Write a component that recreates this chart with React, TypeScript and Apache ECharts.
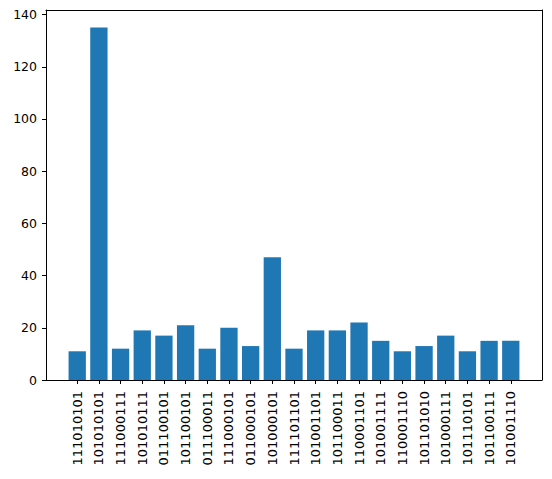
import React, { useEffect, useRef } from "react";
import * as echarts from "echarts";

const categories = [
  "111010101", "101010101", "111000111", "101010111", "011100101", "101100101",
  "011100011", "111000101", "011000101", "101000101", "111101101", "101001101",
  "101100011", "110001101", "101001111", "110001110", "101101010", "101000111",
  "101110101", "101100111", "101001110",
];
const values = [11, 135, 12, 19, 17, 21, 12, 20, 13, 47, 12, 19, 19, 22, 15, 11, 13, 17, 11, 15, 15];
const yTicks = [0, 20, 40, 60, 80, 100, 120, 140];

export default function App() {
  const ref = useRef<HTMLDivElement>(null);
  useEffect(() => {
    if (!ref.current) return;
    const chart = echarts.init(ref.current, null, { renderer: "svg" });
    const n = categories.length;
    const pad = (n - 1 + 0.8) * 0.05 + 0.4;
    const xIdx = categories.map((_, i) => i);
    const font = "DejaVu Sans";
    const xMin = -pad;
    const xMax = n - 1 + pad;
    const yMax = 141.75;
    const frameAxis = {
      type: "value",
      splitLine: { show: false },
      axisLabel: { show: false },
      axisTick: { show: false },
      axisLine: { show: true, onZero: false, lineStyle: { color: "#000", width: 1 } },
    };
    chart.setOption({
      animation: false,
      grid: { left: 46, right: 10, top: 10, bottom: 99 },
      xAxis: [
        {
          type: "value",
          min: xMin,
          max: xMax,
          position: "bottom",
          splitLine: { show: false },
          axisLine: { show: true, onZero: false, lineStyle: { color: "#000", width: 1 } },
          axisTick: { show: true, length: 4, lineStyle: { color: "#000" }, customValues: xIdx },
          axisLabel: {
            rotate: 90,
            margin: 11,
            color: "#000",
            fontSize: 13,
            fontFamily: font,
            customValues: xIdx,
            formatter: (v: number) => categories[Math.round(v)] ?? "",
          },
        },
        { ...frameAxis, min: xMin, max: xMax, position: "top" },
      ],
      yAxis: [
        {
          type: "value",
          min: 0,
          max: yMax,
          position: "left",
          splitLine: { show: false },
          axisLine: { show: true, onZero: false, lineStyle: { color: "#000", width: 1 } },
          axisTick: { show: true, length: 4, lineStyle: { color: "#000" }, customValues: yTicks },
          axisLabel: {
            margin: 9,
            color: "#000",
            fontSize: 12.5,
            fontFamily: font,
            customValues: yTicks,
          },
        },
        { ...frameAxis, min: 0, max: yMax, position: "right" },
      ],
      series: [
        {
          type: "bar",
          xAxisIndex: 0,
          yAxisIndex: 0,
          data: values.map((v, i) => [i, v]),
          barWidth: 17.3,
          itemStyle: { color: "#1f77b4" },
        },
      ],
    });
    return () => chart.dispose();
  }, []);
  return <div ref={ref} style={{ width: 552, height: 479, margin: -8 }} />;
}
